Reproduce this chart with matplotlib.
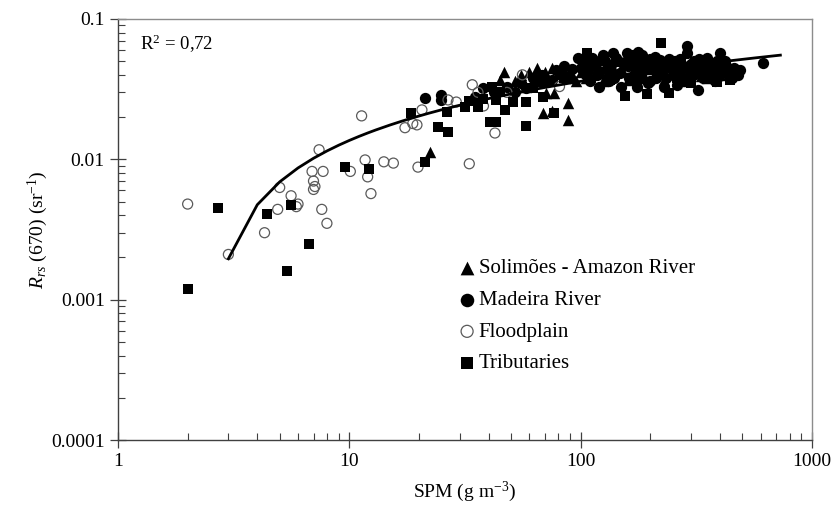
import numpy as np
import matplotlib
matplotlib.use("Agg")
import matplotlib.pyplot as plt
from matplotlib.ticker import LogLocator, FixedLocator, FixedFormatter, NullFormatter

plt.rcParams['font.family'] = ['Liberation Serif', 'DejaVu Serif']
plt.rcParams['mathtext.fontset'] = 'custom'
plt.rcParams['mathtext.rm'] = 'Liberation Serif'
plt.rcParams['mathtext.it'] = 'Liberation Serif:italic'

# SPM (g m-3) and Rrs(670) (sr-1) per water group
solimoes_spm = [22.3, 46.5, 45, 69, 77, 71, 88, 88, 75, 55, 60, 65, 70, 75, 80, 85, 92,
                100, 110, 120, 130, 140, 150, 165, 180, 200, 220, 250, 270, 300, 330,
                52, 58, 63, 95, 105, 125, 160, 190, 230, 280, 350, 400]
solimoes_rrs = [0.0113, 0.042, 0.037, 0.0214, 0.0297, 0.0297, 0.025, 0.0191, 0.022, 0.040,
                0.042, 0.045, 0.042, 0.045, 0.041, 0.043, 0.040, 0.042, 0.047, 0.044, 0.041,
                0.043, 0.045, 0.040, 0.042, 0.044, 0.041, 0.043, 0.040, 0.042, 0.039,
                0.036, 0.033, 0.036, 0.036, 0.038, 0.036, 0.037, 0.038, 0.037, 0.036,
                0.038, 0.040]

madeira_spm = [21.2, 25, 25, 42, 48, 55, 62, 68, 75, 82, 90, 97, 100, 105, 110, 115, 125,
               130, 138, 140, 145, 150, 158, 160, 165, 170, 177, 180, 190, 195, 200, 210,
               215, 225, 235, 245, 255, 265, 275, 288, 288, 295, 305, 320, 330, 345, 360,
               375, 390, 400, 410, 425, 440, 470, 490, 615, 120, 175, 260, 380, 105, 135,
               185, 240, 310, 350, 200, 230, 120, 35, 38,
               102, 108, 112, 118, 128, 132, 142, 148, 155, 162, 168, 172, 182, 188, 205,
               212, 220, 228, 250, 258, 270, 280, 300, 315, 325, 338, 355, 368, 385, 395,
               420, 450, 460, 480, 92, 85, 78, 66, 58, 52]
madeira_rrs = [0.0273, 0.0287, 0.0265, 0.030, 0.033, 0.035, 0.038, 0.040, 0.037, 0.040,
               0.038, 0.0527, 0.045, 0.040, 0.036, 0.048, 0.055, 0.044, 0.057, 0.038, 0.050,
               0.033, 0.057, 0.046, 0.052, 0.040, 0.058, 0.050, 0.045, 0.035, 0.052, 0.054,
               0.042, 0.048, 0.038, 0.045, 0.050, 0.042, 0.047, 0.064, 0.057, 0.044, 0.040,
               0.031, 0.046, 0.042, 0.048, 0.044, 0.050, 0.057, 0.041, 0.046, 0.043, 0.041,
               0.043, 0.0486, 0.033, 0.033, 0.034, 0.036, 0.052, 0.047, 0.055, 0.052, 0.050,
               0.053, 0.036, 0.033, 0.050, 0.028, 0.032,
               0.048, 0.043, 0.053, 0.040, 0.050, 0.036, 0.053, 0.041, 0.049, 0.038, 0.055,
               0.046, 0.040, 0.052, 0.046, 0.038, 0.051, 0.044, 0.040, 0.046, 0.052, 0.038,
               0.048, 0.043, 0.052, 0.038, 0.045, 0.041, 0.046, 0.039, 0.050, 0.038, 0.045,
               0.040, 0.044, 0.046, 0.043, 0.036, 0.032, 0.030]

flood_spm = [2.0, 3.0, 4.3, 4.9, 5.0, 5.6, 5.9, 6.0, 6.9, 7.0, 7.0, 7.1, 7.4, 7.6, 7.7, 8.0,
             10.1, 11.3, 11.7, 12.0, 12.4, 14.1, 15.5, 17.4, 19.6, 19.8, 20.6, 18.8, 26.7,
             29, 33, 34, 36, 42.6, 56, 81, 38, 48]
flood_rrs = [0.0048, 0.0021, 0.0030, 0.0044, 0.0063, 0.0055, 0.0046, 0.0048, 0.0082, 0.0070,
             0.0061, 0.0064, 0.0117, 0.0044, 0.0082, 0.0035, 0.0082, 0.0204, 0.0099, 0.0075,
             0.0057, 0.0096, 0.0094, 0.0168, 0.0176, 0.0088, 0.0225, 0.0180, 0.0265, 0.0256,
             0.0093, 0.034, 0.030, 0.0154, 0.040, 0.033, 0.024, 0.030]

trib_spm = [2.0, 2.7, 4.4, 5.6, 5.4, 6.7, 9.6, 12.2, 18.5, 21.2, 24.2, 26.4, 26.7, 31.6, 36,
            40.5, 43, 41.5, 43, 47, 51, 58, 58, 69, 70, 77, 107, 222, 156, 193, 240, 134,
            390, 443, 45, 62, 85, 120, 175, 260, 300, 350, 38, 33]
trib_rrs = [0.0012, 0.0045, 0.0041, 0.0047, 0.0016, 0.0025, 0.0088, 0.0085, 0.0214, 0.0096,
            0.0170, 0.0218, 0.0157, 0.0236, 0.0236, 0.0185, 0.0185, 0.033, 0.0265, 0.0225,
            0.0255, 0.0255, 0.0173, 0.028, 0.035, 0.0214, 0.057, 0.0675, 0.0283, 0.029,
            0.0297, 0.037, 0.0356, 0.0370, 0.030, 0.032, 0.038, 0.042, 0.036, 0.038, 0.035,
            0.040, 0.027, 0.026]

# logarithmic trend: Rrs = a*ln(SPM) + b
fit_a = 0.0097
fit_b = -0.0087
r2_text = 'R$^2$ = 0,72'

fig = plt.figure(figsize=(8.34, 5.05), dpi=100)
ax = fig.add_axes([0.1415, 0.1287, 0.8321, 0.8337])

ax.scatter(solimoes_spm, solimoes_rrs, marker='^', s=68, c='black', linewidths=0,
           label='Solimões - Amazon River', zorder=3)
ax.scatter(madeira_spm, madeira_rrs, marker='o', s=66, c='black', linewidths=0,
           label='Madeira River', zorder=3)
ax.scatter(flood_spm, flood_rrs, marker='o', s=52, facecolors='none', edgecolors='#5a5a5a',
           linewidths=0.9, label='Floodplain', zorder=3)
ax.scatter(trib_spm, trib_rrs, marker='s', s=60, c='black', linewidths=0,
           label='Tributaries', zorder=3)

xs = np.arange(2.0, 731.0, 1.0)
ys = fit_a * np.log(xs) + fit_b
ys = np.where(ys > 0, ys, np.nan)
ax.plot(xs, ys, color='black', lw=2.0, zorder=4)

ax.set_xscale('log')
ax.set_yscale('log')
ax.set_xlim(1, 1000)
ax.set_ylim(0.0001, 0.1)

xmaj = [1, 10, 100, 1000]
ymaj = [0.0001, 0.001, 0.01, 0.1]
ax.xaxis.set_major_locator(FixedLocator(xmaj))
ax.xaxis.set_major_formatter(FixedFormatter(['1', '10', '100', '1000']))
ax.yaxis.set_major_locator(FixedLocator(ymaj))
ax.yaxis.set_major_formatter(FixedFormatter(['0.0001', '0.001', '0.01', '0.1']))
ax.xaxis.set_minor_locator(LogLocator(base=10, subs=np.arange(2, 10)))
ax.yaxis.set_minor_locator(LogLocator(base=10, subs=np.arange(2, 10)))
ax.xaxis.set_minor_formatter(NullFormatter())
ax.yaxis.set_minor_formatter(NullFormatter())

ax.tick_params(which='major', direction='inout', length=11, width=0.9, color='#404040',
               labelsize=14, pad=4)
ax.tick_params(which='minor', direction='in', length=5, width=0.8, color='#404040')
ax.tick_params(top=False, right=False, which='both')

for side in ['left', 'bottom']:
    ax.spines[side].set_color('#404040')
    ax.spines[side].set_linewidth(1.0)
for side in ['top', 'right']:
    ax.spines[side].set_color('#8c8c8c')
    ax.spines[side].set_linewidth(1.0)

ax.set_xlabel('SPM (g m$^{-3}$)', fontsize=14)
ax.set_ylabel('$R_{rs}$ (670) (sr$^{-1}$)', fontsize=14)
ax.xaxis.set_label_coords(0.5, -0.095)
ax.yaxis.set_label_coords(-0.098, 0.5)

ax.text(0.032, 0.94, r2_text, transform=ax.transAxes, fontsize=13.5, va='center')

ax.legend(loc='upper left', bbox_to_anchor=(0.476, 0.45), frameon=False, fontsize=15,
          handletextpad=0.05, handlelength=1.0, labelspacing=0.58, borderaxespad=0,
          markerscale=1.2)

fig.savefig('out.png', dpi=100)
